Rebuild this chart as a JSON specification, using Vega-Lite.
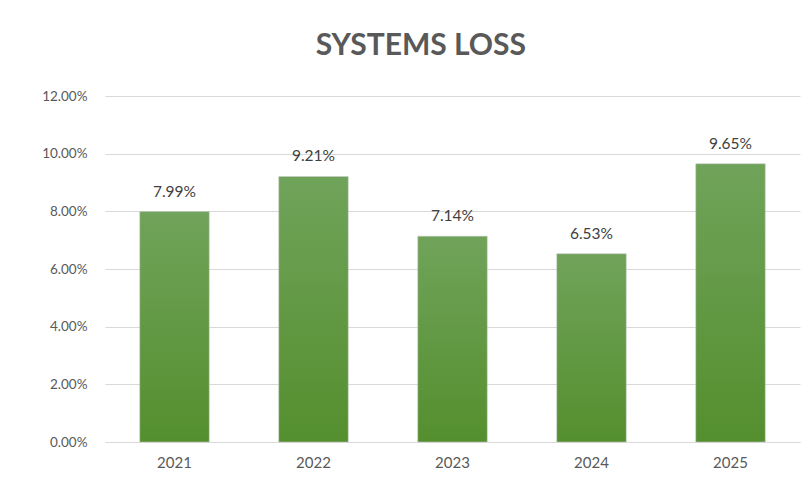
{
  "$schema": "https://vega.github.io/schema/vega-lite/v6.json",
  "width": 695,
  "height": 346,
  "autosize": {"type": "none"},
  "padding": {"left": 105, "top": 96, "right": 12, "bottom": 51},
  "background": "#ffffff",
  "config": {
    "view": {"stroke": null},
    "font": "Lato",
    "axis": {"labelFont": "Lato", "labelColor": "#595959"}
  },
  "title": {
    "text": "SYSTEMS LOSS",
    "font": "Lato",
    "fontSize": 30,
    "fontWeight": "bold",
    "color": "#595959",
    "anchor": "middle",
    "frame": "bounds",
    "baseline": "alphabetic",
    "offset": 4
  },
  "data": {
    "values": [
      {"year": "2021", "loss": 0.0799},
      {"year": "2022", "loss": 0.0921},
      {"year": "2023", "loss": 0.0714},
      {"year": "2024", "loss": 0.0653},
      {"year": "2025", "loss": 0.0965}
    ]
  },
  "encoding": {
    "x": {
      "field": "year",
      "type": "nominal",
      "sort": null,
      "scale": {"paddingInner": 0.5, "paddingOuter": 0.25},
      "axis": {
        "title": null,
        "labelAngle": 0,
        "labelFontSize": 15,
        "ticks": false,
        "domain": true,
        "domainColor": "#d9d9d9",
        "domainWidth": 1,
        "labelPadding": 13
      }
    },
    "y": {
      "field": "loss",
      "type": "quantitative",
      "scale": {"domain": [0, 0.12], "nice": false},
      "axis": {
        "title": null,
        "format": ".2%",
        "values": [0, 0.02, 0.04, 0.06, 0.08, 0.1, 0.12],
        "labelFontSize": 13.5,
        "ticks": false,
        "domain": false,
        "gridColor": "#d9d9d9",
        "gridWidth": 1,
        "labelPadding": 18
      }
    }
  },
  "layer": [
    {
      "mark": {
        "type": "bar",
        "color": {
          "gradient": "linear",
          "x1": 0, "y1": 0, "x2": 0, "y2": 1,
          "stops": [
            {"offset": 0, "color": "#70a35a"},
            {"offset": 1, "color": "#548f2e"}
          ]
        },
        "stroke": "#c8c8c8",
        "strokeWidth": 0.5
      }
    },
    {
      "mark": {
        "type": "text",
        "baseline": "bottom",
        "dy": -12,
        "font": "Lato",
        "fontSize": 15.5,
        "color": "#404040"
      },
      "encoding": {
        "text": {"field": "loss", "type": "quantitative", "format": ".2%"}
      }
    }
  ]
}
